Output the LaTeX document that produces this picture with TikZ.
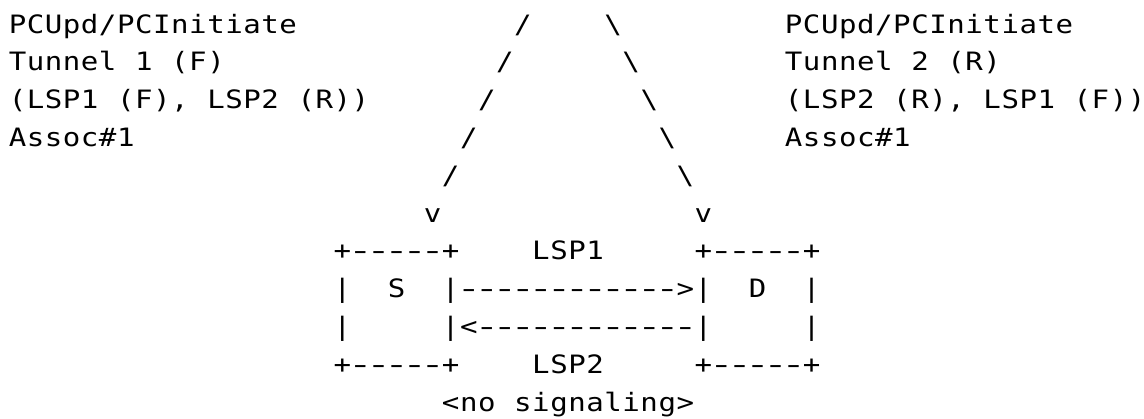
\documentclass[tikz,border=0pt]{standalone}
\usepackage{fontspec}
\newfontfamily\asciifont[FakeStretch=1.15]{DejaVu Sans Mono}
\newlength\cellw \setlength\cellw{18.05pt}
\newcommand\hy{\scalebox{1.4}[1]{-}}
\newcommand\mono[1]{\monoloop#1\relax}
\def\monoloop#1{\ifx#1\relax\else\makebox[\cellw][c]{#1}\expandafter\monoloop\fi}
\newcommand\asc[4]{\node[mono] (#1) at ({8.5+18.05*#2},{33+37.8*(#3-1)}) {\mono{#4}};}
\begin{document}
\begin{tikzpicture}[x=1pt,y=-1pt,
  mono/.style={anchor=base west, inner sep=0pt, outer sep=0pt, text=black,
    font=\asciifont\fontsize{25.3}{30}\selectfont}]
\fill[white] (0,0) rectangle (1144,418);
\useasboundingbox (0,0) rectangle (1144,418);
% left label
\asc{t1l}{0}{1}{PCUpd/PCInitiate}
\asc{t2l}{0}{2}{Tunnel~1~(F)}
\asc{t3l}{0}{3}{(LSP1~(F),~LSP2~(R))}
\asc{t4l}{0}{4}{Assoc\#1}
% right label
\asc{t1r}{43}{1}{PCUpd/PCInitiate}
\asc{t2r}{43}{2}{Tunnel~2~(R)}
\asc{t3r}{43}{3}{(LSP2~(R),~LSP1~(F))}
\asc{t4r}{43}{4}{Assoc\#1}
% left slanted line
\asc{s1}{28}{1}{/}
\asc{s2}{27}{2}{/}
\asc{s3}{26}{3}{/}
\asc{s4}{25}{4}{/}
\asc{s5}{24}{5}{/}
\asc{vl}{23}{6}{v}
% right slanted line
\asc{b1}{33}{1}{\textbackslash}
\asc{b2}{34}{2}{\textbackslash}
\asc{b3}{35}{3}{\textbackslash}
\asc{b4}{36}{4}{\textbackslash}
\asc{b5}{37}{5}{\textbackslash}
\asc{vr}{38}{6}{v}
% boxes and LSPs
\asc{stop}{18}{7}{+\hy\hy\hy\hy\hy+}
\asc{lsp1}{29}{7}{LSP1}
\asc{dtop}{38}{7}{+\hy\hy\hy\hy\hy+}
\asc{srow1}{18}{8}{|~~S~~|}
\asc{fwd}{25}{8}{\hy\hy\hy\hy\hy\hy\hy\hy\hy\hy\hy\hy>}
\asc{drow1}{38}{8}{|~~D~~|}
\asc{srow2}{18}{9}{|~~~~~|}
\asc{rev}{25}{9}{<\hy\hy\hy\hy\hy\hy\hy\hy\hy\hy\hy\hy}
\asc{drow2}{38}{9}{|~~~~~|}
\asc{sbot}{18}{10}{+\hy\hy\hy\hy\hy+}
\asc{lsp2}{29}{10}{LSP2}
\asc{dbot}{38}{10}{+\hy\hy\hy\hy\hy+}
\asc{nosig}{24}{11}{<no~signaling>}
\end{tikzpicture}
\end{document}
